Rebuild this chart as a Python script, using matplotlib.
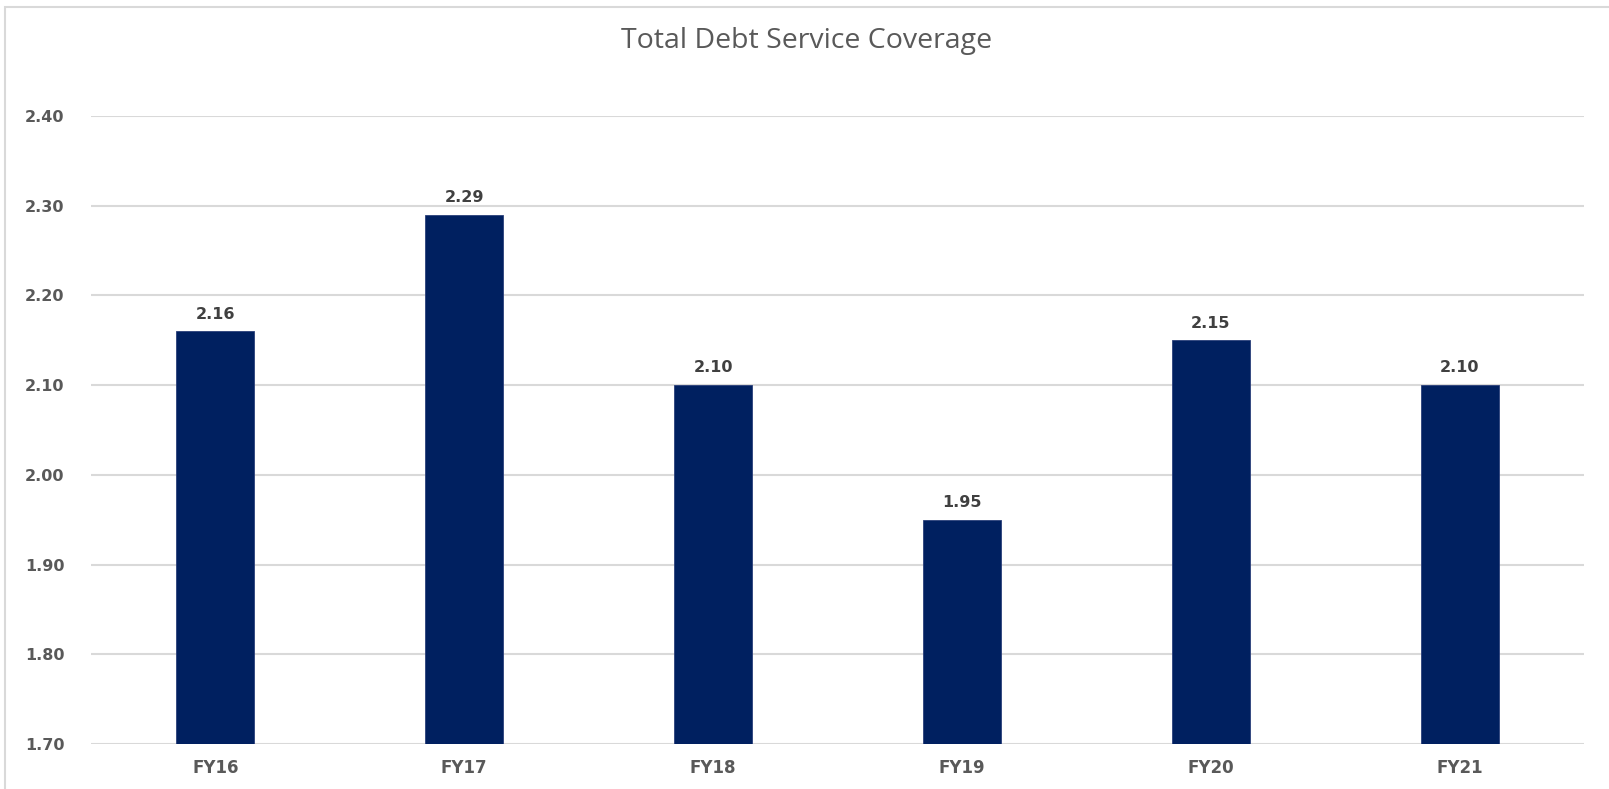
import matplotlib.pyplot as plt
from matplotlib.patches import Rectangle

years = ['FY16', 'FY17', 'FY18', 'FY19', 'FY20', 'FY21']
coverage = [2.16, 2.29, 2.10, 1.95, 2.15, 2.10]
y_ticks = [1.70, 1.80, 1.90, 2.00, 2.10, 2.20, 2.30, 2.40]

W, H = 1609, 789
fig = plt.figure(figsize=(W / 100, H / 100), dpi=100)

# chart frame (light gray border, cut off on the right and bottom)
fig.patches.append(Rectangle((5 / W, -0.1), 1.2, 1 - 7 / H + 0.1,
                             transform=fig.transFigure, fill=False,
                             edgecolor='#d9d9d9', linewidth=1.5))

ax = fig.add_axes([91 / W, 45 / H, 1493 / W, 628 / H])

x = range(len(years))
ax.bar(x, coverage, width=0.313, color='#002060',
       edgecolor='#2a3f7a', linewidth=0.6, zorder=3)

ax.set_ylim(1.70, 2.40)
ax.set_xlim(-0.5, len(years) - 0.5)
ax.set_yticks(y_ticks)
ax.set_yticklabels([f'{v:.2f}' for v in y_ticks])
ax.set_xticks(list(x))
ax.set_xticklabels(years)

ax.grid(axis='y', color='#d9d9d9', linewidth=1.5, zorder=0)
ax.set_axisbelow(True)
for s in ax.spines.values():
    s.set_visible(False)

ax.tick_params(axis='y', length=0, pad=19, labelsize=11.5, labelcolor='#595959')
ax.tick_params(axis='x', length=0, pad=11, labelsize=12, labelcolor='#595959')
for lbl in ax.get_yticklabels() + ax.get_xticklabels():
    lbl.set_fontweight('bold')

# value labels above each bar
for i, v in enumerate(coverage):
    ax.annotate(f'{v:.2f}', (i, v), textcoords='offset points', xytext=(0, 7),
                ha='center', va='bottom', fontsize=11.5, fontweight='bold',
                color='#404040')

fig.text(807 / W, 1 - 41 / H, 'Total Debt Service Coverage', ha='center',
         va='center', fontsize=20.5, family='Open Sans', color='#595959')

fig.savefig('out.png', dpi=100)
